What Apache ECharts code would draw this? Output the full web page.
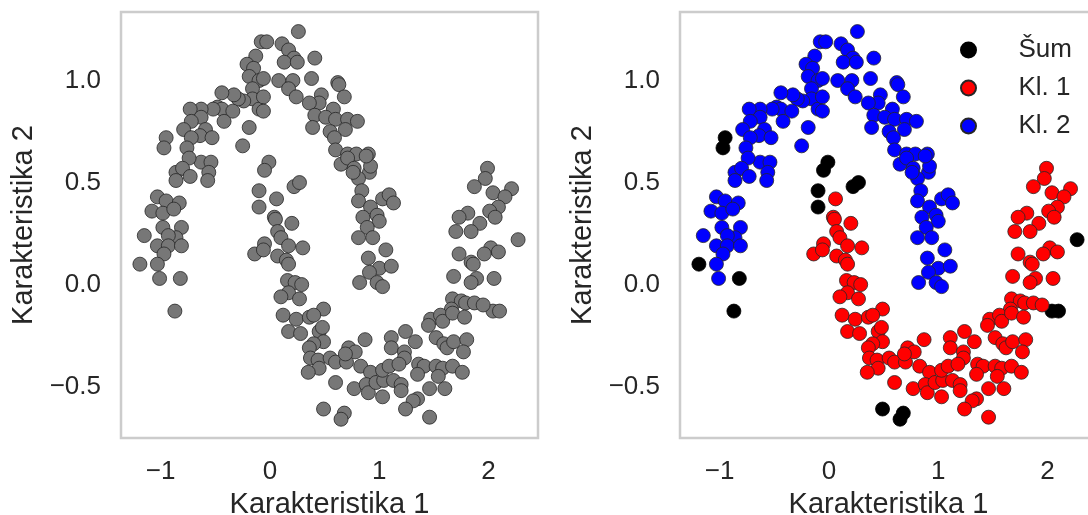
<!DOCTYPE html>
<html>
<head>
<meta charset="utf-8">
<script src="https://cdn.jsdelivr.net/npm/echarts@6/dist/echarts.min.js"></script>
<style>
  html, body { margin: 0; padding: 0; background: #ffffff; }
  #chart { width: 1088px; height: 515px; }
</style>
</head>
<body>
<div id="chart"></div>
<script>
// Two-moons sample: points grouped by the DBSCAN label they received.
const noisePoints = [
  [-0.95, 0.72], [-0.97, 0.67], [-1.19, 0.10], [-0.82, 0.03], [-0.87, -0.13],
  [-0.01, 0.60], [-0.05, 0.56], [-0.10, 0.46], [-0.10, 0.38], [0.22, 0.48],
  [0.27, 0.50], [2.27, 0.22], [0.49, -0.61], [0.68, -0.63], [0.65, -0.66],
  [2.04, -0.13], [2.10, -0.13]
];

const cluster1Points = [
  [-0.14, 0.15], [-0.05, 0.20], [-0.06, 0.17], [0.06, 0.42], [0.04, 0.33], [0.05, 0.32],
  [0.20, 0.30], [0.07, 0.26], [0.10, 0.23], [0.17, 0.19], [0.30, 0.18], [0.07, 0.14],
  [0.15, 0.12], [0.17, 0.10], [0.16, 0.02], [0.23, 0.01], [0.29, 0.00], [0.17, -0.04],
  [0.10, -0.06], [0.27, -0.07], [0.49, -0.12], [0.12, -0.15], [0.24, -0.17], [0.36, -0.16],
  [0.40, -0.15], [0.17, -0.23], [0.28, -0.24], [0.45, -0.23], [0.48, -0.21], [0.49, -0.28],
  [0.40, -0.29], [0.36, -0.31], [0.37, -0.36], [0.44, -0.37], [0.45, -0.41], [0.35, -0.43],
  [0.55, -0.36], [0.60, -0.38], [0.70, -0.38], [0.72, -0.31], [0.78, -0.33], [0.69, -0.34],
  [0.87, -0.27], [0.83, -0.40], [0.92, -0.43], [0.60, -0.48], [0.77, -0.51], [0.88, -0.49],
  [0.90, -0.53], [1.03, -0.55], [0.97, -0.48], [1.04, -0.47], [1.03, -0.42], [1.11, -0.26],
  [1.11, -0.31], [1.09, -0.40], [1.13, -0.47],
  [1.99, 0.57], [1.97, 0.52], [1.87, 0.48], [2.04, 0.45], [2.21, 0.47], [2.15, 0.43],
  [2.09, 0.38], [2.01, 0.36], [2.06, 0.33], [1.92, 0.30], [1.81, 0.35], [1.73, 0.33],
  [1.70, 0.26], [1.84, 0.26], [2.02, 0.18], [2.09, 0.16], [1.96, 0.15], [1.73, 0.15],
  [1.84, 0.11], [1.86, 0.10], [1.68, 0.04], [1.89, 0.03], [1.84, 0.01], [2.05, 0.03],
  [1.67, -0.07], [1.75, -0.08], [1.79, -0.09], [1.87, -0.09], [1.95, -0.10], [1.66, -0.12],
  [1.47, -0.17], [1.45, -0.20], [1.56, -0.15], [1.58, -0.18], [1.67, -0.14], [1.78, -0.16],
  [1.24, -0.23], [1.33, -0.28], [1.52, -0.26], [1.59, -0.29], [1.62, -0.31], [1.68, -0.28],
  [1.80, -0.27], [1.77, -0.33], [1.23, -0.33], [1.23, -0.36], [1.18, -0.39], [1.36, -0.39],
  [1.41, -0.40], [1.35, -0.44], [1.52, -0.40], [1.58, -0.41], [1.67, -0.40], [1.76, -0.43],
  [1.54, -0.45], [1.20, -0.49], [1.20, -0.52], [1.46, -0.51], [1.60, -0.51], [1.35, -0.56],
  [1.31, -0.57], [1.24, -0.61], [1.46, -0.65]
];

const cluster2Points = [
  [-0.08, 1.19], [-0.13, 1.12], [-0.21, 1.08], [-0.15, 1.06], [-0.19, 1.02], [-0.10, 1.00],
  [-0.16, 0.96], [-0.16, 0.91], [-0.24, 0.90], [-0.29, 0.91], [-0.33, 0.93], [-0.44, 0.94],
  [-0.48, 0.87], [-0.44, 0.86], [-0.34, 0.85], [-0.42, 0.80], [-0.52, 0.86], [-0.63, 0.86],
  [-0.73, 0.86], [-0.63, 0.82], [-0.72, 0.80], [-0.79, 0.76], [-0.59, 0.76], [-0.64, 0.73],
  [-0.53, 0.72], [-0.72, 0.72], [-0.76, 0.67], [-0.19, 0.77], [-0.25, 0.68], [-0.10, 0.86],
  [0.26, 1.24], [-0.03, 1.19], [0.11, 1.18], [0.17, 1.15], [0.22, 1.11], [0.13, 1.09],
  [0.25, 1.09], [0.41, 1.11], [-0.06, 1.01], [0.08, 1.00], [0.21, 1.00], [0.17, 0.96],
  [0.24, 0.92], [0.38, 1.01], [0.62, 0.99], [0.63, 0.98], [0.68, 0.92], [0.47, 0.93],
  [0.45, 0.89], [0.36, 0.89], [0.58, 0.86], [0.41, 0.83], [0.51, 0.82], [0.60, 0.81],
  [0.71, 0.81], [0.80, 0.80], [0.69, 0.76], [0.39, 0.77], [0.55, 0.75], [0.59, 0.72],
  [-0.06, 0.92], [-0.06, 0.85], [0.60, 0.66], [0.71, 0.64], [0.79, 0.64], [0.90, 0.64],
  [-0.63, 0.60], [-0.54, 0.60], [-0.74, 0.62], [-0.86, 0.55], [-0.80, 0.57], [-0.73, 0.53],
  [-0.56, 0.55], [-0.57, 0.51], [-0.86, 0.51], [-1.03, 0.43], [-0.95, 0.41], [-0.83, 0.40],
  [-1.08, 0.36], [-0.98, 0.35], [-0.88, 0.37], [-0.81, 0.28], [-0.98, 0.28], [-1.15, 0.24],
  [-0.86, 0.23], [-0.93, 0.24], [-1.03, 0.19], [-0.93, 0.19], [-0.81, 0.19], [-0.97, 0.15],
  [-1.03, 0.10], [-1.01, 0.03],
  [0.65, 0.59], [0.71, 0.62], [0.77, 0.57], [0.91, 0.55], [0.81, 0.52], [0.92, 0.58],
  [0.88, 0.63], [0.76, 0.55], [0.84, 0.46], [0.81, 0.41], [1.03, 0.42], [1.09, 0.44],
  [1.13, 0.40], [0.92, 0.38], [0.98, 0.34], [0.85, 0.33], [1.00, 0.31], [0.89, 0.28],
  [0.94, 0.23], [0.81, 0.23], [1.06, 0.17], [0.90, 0.13], [1.00, 0.08], [1.11, 0.09],
  [0.91, 0.06], [0.82, 0.01], [0.98, 0.01], [1.03, -0.01]
];

const xTickValues = [-1, 0, 1, 2];
const yTickValues = [-0.5, 0.0, 0.5, 1.0];
const xAxisTitle = 'Karakteristika 1';
const yAxisTitle = 'Karakteristika 2';
const seriesNames = ['Šum', 'Kl. 1', 'Kl. 2'];

const allPoints = noisePoints.concat(cluster1Points, cluster2Points);

const FONT = '"Liberation Sans", Arial, "DejaVu Sans", sans-serif';
const TEXT_COLOR = '#262626';
const MINUS = '\u2212';

function fmtX(v) { return (v < 0 ? MINUS : '') + Math.abs(v).toFixed(0); }
function fmtY(v) { return (v < 0 ? MINUS : '') + Math.abs(v).toFixed(1); }

function makeX(idx) {
  return {
    gridIndex: idx, type: 'value', min: -1.363, max: 2.452,
    axisLine: { show: false }, axisTick: { show: false }, splitLine: { show: false },
    axisLabel: {
      customValues: xTickValues, formatter: fmtX, fontSize: 26,
      color: TEXT_COLOR, fontFamily: FONT, margin: 21
    },
    name: xAxisTitle, nameLocation: 'middle', nameGap: 52,
    nameTextStyle: { fontSize: 29, color: TEXT_COLOR, fontFamily: FONT }
  };
}
function makeY(idx) {
  return {
    gridIndex: idx, type: 'value', min: -0.752, max: 1.336,
    axisLine: { show: false }, axisTick: { show: false }, splitLine: { show: false },
    axisLabel: {
      customValues: yTickValues, formatter: fmtY, fontSize: 26,
      color: TEXT_COLOR, fontFamily: FONT, margin: 20
    },
    name: yAxisTitle, nameLocation: 'middle', nameGap: 83,
    nameTextStyle: { fontSize: 29, color: TEXT_COLOR, fontFamily: FONT }
  };
}

const frame = {
  show: true, borderColor: '#cccccc', borderWidth: 2.5,
  backgroundColor: 'rgba(0,0,0,0)', containLabel: false, outerBoundsMode: 'none'
};
const markerSize = 14;

const chart = echarts.init(document.getElementById('chart'), null, { renderer: 'canvas' });
chart.setOption({
  animation: false,
  backgroundColor: '#ffffff',
  textStyle: { fontFamily: FONT },
  grid: [
    Object.assign({ left: 121, top: 12, width: 417, height: 426 }, frame),
    Object.assign({ left: 680, top: 12, width: 417, height: 426 }, frame)
  ],
  xAxis: [makeX(0), makeX(1)],
  yAxis: [makeY(0), makeY(1)],
  legend: {
    data: seriesNames,
    orient: 'vertical',
    left: 955, top: 32,
    itemWidth: 90, itemHeight: 15, itemGap: 12,
    icon: 'circle',
    textStyle: { fontSize: 26, color: TEXT_COLOR, fontFamily: FONT, lineHeight: 26 }
  },
  series: [
    {
      type: 'scatter', xAxisIndex: 0, yAxisIndex: 0, data: allPoints,
      symbolSize: markerSize, clip: false,
      itemStyle: { color: '#777777', borderColor: '#262626', borderWidth: 0.8, opacity: 1 }
    },
    {
      name: seriesNames[0], type: 'scatter', xAxisIndex: 1, yAxisIndex: 1, data: noisePoints,
      symbolSize: markerSize, clip: false,
      itemStyle: { color: '#000000', borderColor: '#000000', borderWidth: 0.8, opacity: 1 }
    },
    {
      name: seriesNames[1], type: 'scatter', xAxisIndex: 1, yAxisIndex: 1, data: cluster1Points,
      symbolSize: markerSize, clip: false,
      itemStyle: { color: '#ff0000', borderColor: '#262626', borderWidth: 0.8, opacity: 1 }
    },
    {
      name: seriesNames[2], type: 'scatter', xAxisIndex: 1, yAxisIndex: 1, data: cluster2Points,
      symbolSize: markerSize, clip: false,
      itemStyle: { color: '#0000ff', borderColor: '#262626', borderWidth: 0.8, opacity: 1 }
    }
  ]
});
</script>
</body>
</html>
